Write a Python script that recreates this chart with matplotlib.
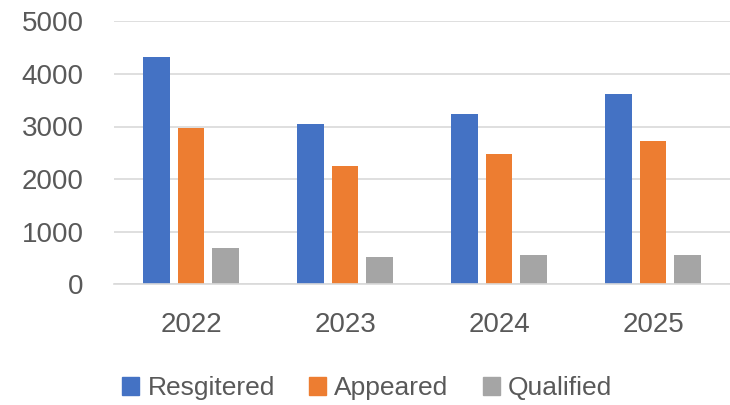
import matplotlib.pyplot as plt
import numpy as np
from matplotlib.patches import Patch

plt.rcParams['font.family'] = ['Liberation Sans', 'DejaVu Sans']

years = ['2022', '2023', '2024', '2025']
registered = [4320, 3050, 3230, 3610]
appeared = [2980, 2255, 2485, 2720]
qualified = [685, 515, 565, 565]

series = ['Resgitered', 'Appeared', 'Qualified']
colors = ['#4472C4', '#ED7D31', '#A5A5A5']
text_color = '#595959'

fig = plt.figure(figsize=(7.3, 4.05), dpi=100)
ax = fig.add_axes([114 / 730, 1 - 284.3 / 405, 616 / 730, 263 / 405])

x = np.arange(len(years))
width = 0.173
step = 0.222
for i, (vals, color) in enumerate(zip([registered, appeared, qualified], colors)):
    ax.bar(x + (i - 1) * step, vals, width, color=color, zorder=3)

ax.set_xlim(-0.5, len(years) - 0.5)
ax.set_ylim(0, 5000)
ax.set_yticks(range(0, 5001, 1000))
ax.set_xticks(x)
ax.set_xticklabels(years)

ax.grid(axis='y', color='#d9d9d9', linewidth=1.2, zorder=0)
ax.grid(axis='x', visible=False)
for side in ['top', 'right', 'left']:
    ax.spines[side].set_visible(False)
ax.spines['bottom'].set_color('#d9d9d9')
ax.spines['bottom'].set_linewidth(1.2)
ax.spines['bottom'].set_zorder(4)

ax.tick_params(axis='y', length=0, pad=22, labelsize=20, labelcolor=text_color)
ax.tick_params(axis='x', length=0, pad=20, labelsize=20, labelcolor=text_color)

handles = [Patch(color=c, label=s) for s, c in zip(series, colors)]
fig.legend(handles=handles, loc='center', bbox_to_anchor=(0.503, 1 - 388 / 405),
           ncol=3, frameon=False, fontsize=19, labelcolor=text_color,
           handlelength=0.65, handleheight=0.65, handletextpad=0.3,
           columnspacing=1.3, borderaxespad=0)

fig.savefig('out.png', dpi=100)
